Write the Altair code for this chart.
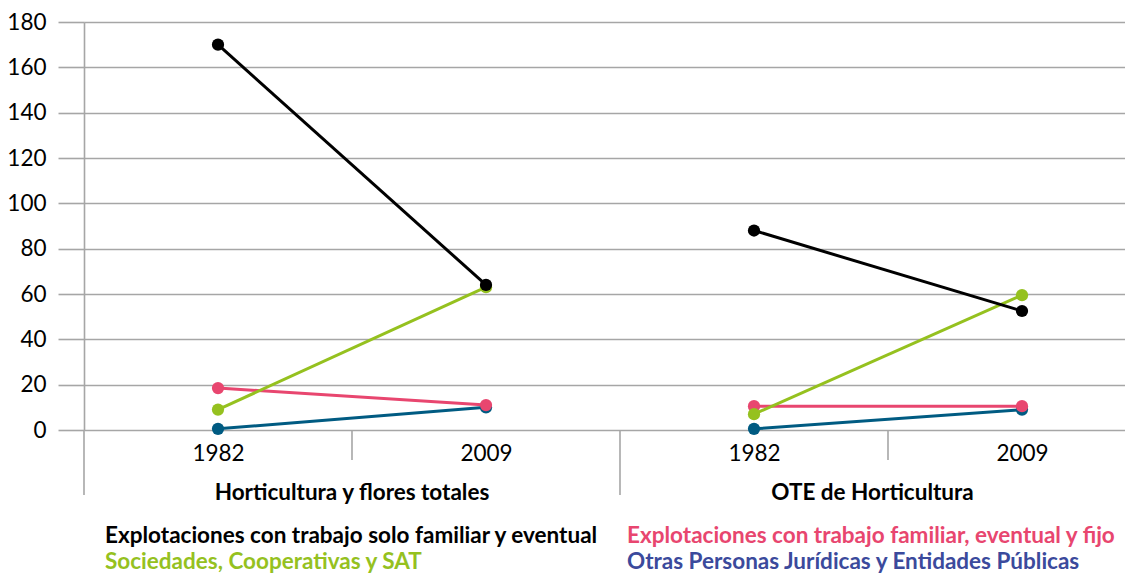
import altair as alt
import pandas as pd

# ---- data ----
groups = ["Horticultura y flores totales", "OTE de Horticultura"]
years = ["1982", "2009"]
series = [
    "Explotaciones con trabajo solo familiar y eventual",
    "Explotaciones con trabajo familiar, eventual y fijo",
    "Sociedades, Cooperativas y SAT",
    "Otras Personas Jurídicas y Entidades Públicas",
]
# values per series: [g1-1982, g1-2009, g2-1982, g2-2009]
v_familiar_eventual = [170, 64, 88, 52.5]
v_familiar_fijo = [18.5, 11, 10.5, 10.5]
v_sociedades = [9, 63, 7, 59.5]
v_otras = [0.5, 10, 0.5, 9]
values = [v_familiar_eventual, v_familiar_fijo, v_sociedades, v_otras]

line_colors = ["#000000", "#E8466F", "#95C11F", "#005B82"]
legend_colors = ["#000000", "#E8466F", "#95C11F", "#3B4A9C"]
draw_order = [3, 1, 2, 0]

W, H = 1041, 408
xmax = W / 134.0

# positions on a category axis: each group spans 4 units
xpos = [1, 3, 5, 7]
group_centers = [2, (4 + xmax) / 2]
group_edges = [0, 4]
minor_ticks = [2, 6]

rows = []
for si in draw_order:
    for k, v in enumerate(values[si]):
        rows.append({
            "series": series[si],
            "line": f"{si}-{k // 2}",
            "order": draw_order.index(si),
            "x": xpos[k],
            "value": v,
        })
df = pd.DataFrame(rows)

font = "Lato"
fs = 22.5
grid_color = "#A6A6A6"

xscale = alt.Scale(domain=[0, xmax], nice=False, zero=False)
yscale = alt.Scale(domain=[0, 180], nice=False)
cscale = alt.Scale(domain=series, range=line_colors)

label_expr = "(datum.value == 1 || datum.value == 5) ? '%s' : '%s'" % (years[0], years[1])

base = alt.Chart(df)

lines = base.mark_line(strokeWidth=3).encode(
    x=alt.X("x:Q", scale=xscale,
            axis=alt.Axis(values=xpos, labelExpr=label_expr, title=None, grid=False,
                          ticks=False, domain=False, labelFont=font, labelFontSize=fs,
                          labelColor="#000", labelPadding=12)),
    y=alt.Y("value:Q", scale=yscale,
            axis=alt.Axis(values=list(range(0, 181, 20)), title=None, grid=True,
                          gridColor=grid_color, gridWidth=1.6, tickColor=grid_color,
                          tickWidth=1.6, tickSize=26, domainColor=grid_color,
                          domainWidth=1.6, labelFont=font, labelFontSize=fs,
                          labelColor="#000", labelPadding=12)),
    color=alt.Color("series:N", scale=cscale, legend=None),
    detail="line:N",
    order="order:Q",
)

points = base.mark_circle(size=150, opacity=1).encode(
    x=alt.X("x:Q", scale=xscale),
    y=alt.Y("value:Q", scale=yscale),
    color=alt.Color("series:N", scale=cscale, legend=None),
    order="order:Q",
)

edges_df = pd.DataFrame({"x": group_edges})
edges = alt.Chart(edges_df).mark_rule(color=grid_color, strokeWidth=1.6).encode(
    x=alt.X("x:Q", scale=xscale),
    y=alt.value(H),
    y2=alt.value(H + 65),
)

minor_df = pd.DataFrame({"x": minor_ticks})
minor = alt.Chart(minor_df).mark_rule(color=grid_color, strokeWidth=1.6).encode(
    x=alt.X("x:Q", scale=xscale),
    y=alt.value(H),
    y2=alt.value(H + 30),
)

glabel_df = pd.DataFrame({"x": group_centers, "label": groups})
glabels = alt.Chart(glabel_df).mark_text(
    font=font, fontSize=fs, fontWeight="bold", color="#000", baseline="middle", align="center"
).encode(
    x=alt.X("x:Q", scale=xscale),
    y=alt.value(H + 63),
    text="label:N",
)

leg_df = pd.DataFrame({
    "label": series,
    "color": legend_colors,
    "px": [21, 543, 21, 543],
    "py": [H + 106, H + 106, H + 132, H + 132],
})
legend = alt.Chart(leg_df).mark_text(
    font=font, fontSize=fs, fontWeight="bold", baseline="middle", align="left"
).encode(
    x=alt.X("px:Q", scale=None),
    y=alt.Y("py:Q", scale=None),
    text="label:N",
    color=alt.Color("color:N", scale=None),
)

chart = alt.layer(edges, minor, lines, points, glabels, legend).properties(
    width=W, height=H,
    autosize=alt.AutoSizeParams(type="none"),
    padding={"left": 76, "top": 14, "right": 0, "bottom": 150},
).configure_view(stroke=None).configure(background="white")

chart.save("out.html", embed_options={"renderer": "svg", "actions": False})
